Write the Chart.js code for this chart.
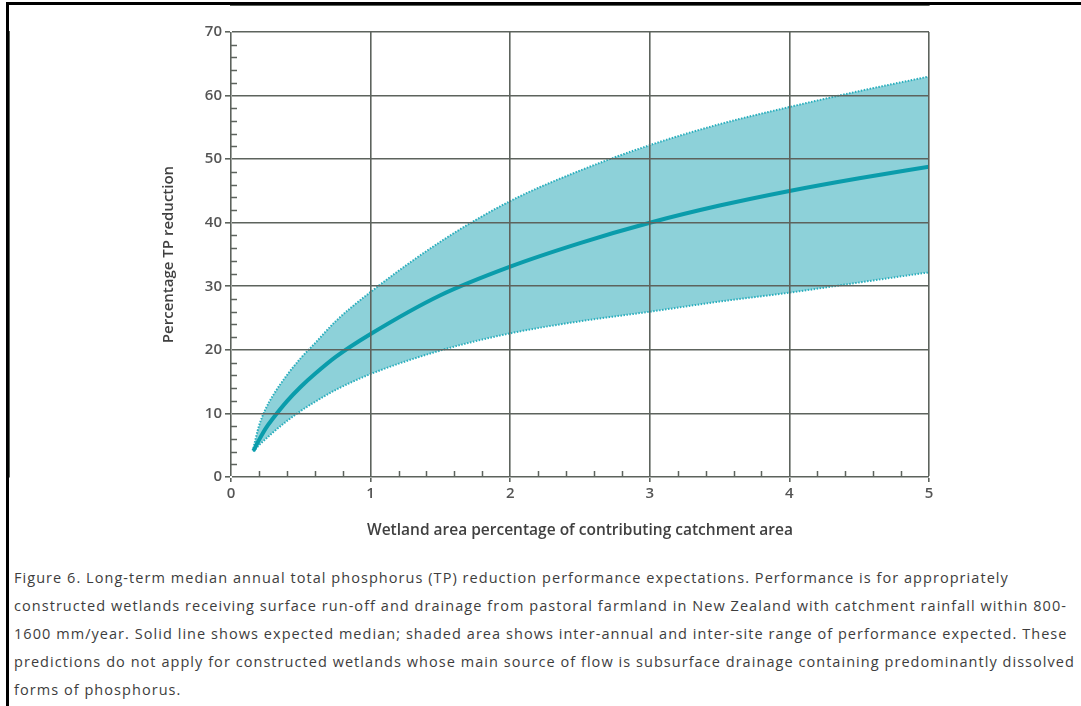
<!DOCTYPE html>
<html>
<head>
<meta charset="utf-8">
<title>Figure 6</title>
<script src="https://cdn.jsdelivr.net/npm/chart.js@4.4.1/dist/chart.umd.min.js"></script>
<style>
  html, body { margin: 0; padding: 0; background: #fff; }
  body { width: 1081px; height: 706px; position: relative; overflow: hidden; }
  #frame {
    position: absolute; left: 6px; top: 2px; width: 1080px; height: 710px;
    border-top: 3px solid #000; border-left: 3px solid #000; box-sizing: border-box;
  }
  #chart-box { position: absolute; left: 9px; top: 5px; width: 1072px; height: 545px; }
  #caption {
    position: absolute; left: 14px; top: 564px; width: 1065px;
    font-family: "Open Sans", sans-serif; font-size: 14.5px; line-height: 28px;
    letter-spacing: 1.05px; color: #3d3d3d; white-space: nowrap;
  }
</style>
</head>
<body>
<div id="frame"></div>
<div id="chart-box"><canvas id="tp-chart" width="1072" height="545"></canvas></div>
<div id="caption">
  Figure 6. Long-term median annual total phosphorus (TP) reduction performance expectations. Performance is for appropriately<br>
  constructed wetlands receiving surface run-off and drainage from pastoral farmland in New Zealand with catchment rainfall within 800-<br>
  1600 mm/year. Solid line shows expected median; shaded area shows inter-annual and inter-site range of performance expected. These<br>
  predictions do not apply for constructed wetlands whose main source of flow is subsurface drainage containing predominantly dissolved<br>
  forms of phosphorus.
</div>
<script>
// wetland area (% of catchment)
const wetlandArea = [0.16, 0.2, 0.25, 0.3, 0.4, 0.5, 0.6, 0.75, 1, 1.5, 2, 2.5, 3, 3.5, 4, 4.5, 5];
const medianTP   = [4.1, 5.8, 7.7, 9.2, 11.9, 14.2, 16.2, 18.9, 22.5, 28.6, 33.1, 36.8, 40.0, 42.7, 45.0, 47.0, 48.8];
const upperTP    = [4.5, 8.0, 10.8, 12.8, 16.0, 18.7, 21.0, 24.5, 29.1, 37.0, 43.4, 48.2, 52.2, 55.5, 58.2, 60.7, 63.0];
const lowerTP    = [4.0, 5.0, 6.0, 7.0, 8.8, 10.4, 11.8, 13.7, 16.2, 19.9, 22.6, 24.5, 26.0, 27.6, 29.0, 30.6, 32.2];

const yTicks = [0, 10, 20, 30, 40, 50, 60, 70];
const xTicks = [0, 1, 2, 3, 4, 5];

const gridColor = '#5d635d';
const labelColor = '#555';

function toPoints(values) {
  return wetlandArea.map((x, i) => ({ x: x, y: values[i] }));
}

/** Small inward tick marks between the labelled ones */
const minorTicks = {
  id: 'minorTicks',
  afterDraw(chart) {
    const { ctx, chartArea, scales } = chart;
    ctx.save();
    ctx.strokeStyle = gridColor;
    ctx.lineWidth = 1.5;
    ctx.beginPath();
    for (let v = 0.2; v < scales.x.max; v += 0.2) {
      if (Math.abs(v - Math.round(v)) < 0.01) continue;
      const px = Math.round(scales.x.getPixelForValue(v)) + 0.5;
      ctx.moveTo(px, chartArea.bottom);
      ctx.lineTo(px, chartArea.bottom - 6);
    }
    for (let v = 2; v < scales.y.max; v += 2) {
      if (v % 10 === 0) continue;
      const py = Math.round(scales.y.getPixelForValue(v)) + 0.5;
      ctx.moveTo(chartArea.left, py);
      ctx.lineTo(chartArea.left + 6, py);
    }
    ctx.stroke();
    ctx.restore();
  }
};

const ctx = document.getElementById('tp-chart').getContext('2d');
new Chart(ctx, {
  type: 'scatter',
  data: {
    datasets: [
      {
        label: 'Median',
        data: toPoints(medianTP),
        showLine: true,
        borderColor: '#0a9cab',
        borderWidth: 4,
        pointRadius: 0,
        cubicInterpolationMode: 'monotone',
        fill: false
      },
      {
        label: 'Upper',
        data: toPoints(upperTP),
        showLine: true,
        borderColor: '#2aaebd',
        borderWidth: 2,
        borderDash: [1.5, 1.5],
        pointRadius: 0,
        cubicInterpolationMode: 'monotone',
        backgroundColor: '#8dd1d9',
        fill: '+1'
      },
      {
        label: 'Lower',
        data: toPoints(lowerTP),
        showLine: true,
        borderColor: '#2aaebd',
        borderWidth: 2,
        borderDash: [1.5, 1.5],
        pointRadius: 0,
        cubicInterpolationMode: 'monotone',
        fill: false
      }
    ]
  },
  options: {
    responsive: false,
    animation: false,
    events: [],
    layout: { padding: { left: 0, top: 27, right: 152, bottom: 0 } },
    plugins: {
      legend: { display: false },
      tooltip: { enabled: false },
      filler: { drawTime: 'beforeDatasetsDraw' }
    },
    scales: {
      x: {
        type: 'linear',
        min: 0,
        max: 5,
        afterBuildTicks: scale => { scale.ticks = xTicks.map(v => ({ value: v })); },
        afterFit: scale => { scale.height = 73; },
        grid: { color: gridColor, lineWidth: 1.6, tickLength: 5, z: 1 },
        border: { color: gridColor, width: 2 },
        ticks: {
          color: labelColor,
          padding: 3,
          maxRotation: 0,
          font: { family: 'Open Sans', size: 15, weight: '600' }
        },
        title: {
          display: true,
          text: 'Wetland area percentage of contributing catchment area',
          color: '#404040',
          padding: { top: 0, bottom: 10 },
          font: { family: 'Open Sans', size: 15.5, weight: '600' }
        }
      },
      y: {
        type: 'linear',
        min: 0,
        max: 70,
        afterBuildTicks: scale => { scale.ticks = yTicks.map(v => ({ value: v })); },
        afterFit: scale => { scale.width = 222; },
        grid: { color: gridColor, lineWidth: 1.6, tickLength: 6, z: 1 },
        border: { color: gridColor, width: 2 },
        ticks: {
          color: labelColor,
          padding: 3,
          font: { family: 'Open Sans', size: 15, weight: '600' }
        },
        title: {
          display: true,
          text: 'Percentage TP reduction',
          color: '#404040',
          padding: { top: 151, bottom: 0 },
          font: { family: 'Open Sans', size: 15, weight: '600' }
        }
      }
    }
  },
  plugins: [minorTicks]
});
</script>
</body>
</html>
